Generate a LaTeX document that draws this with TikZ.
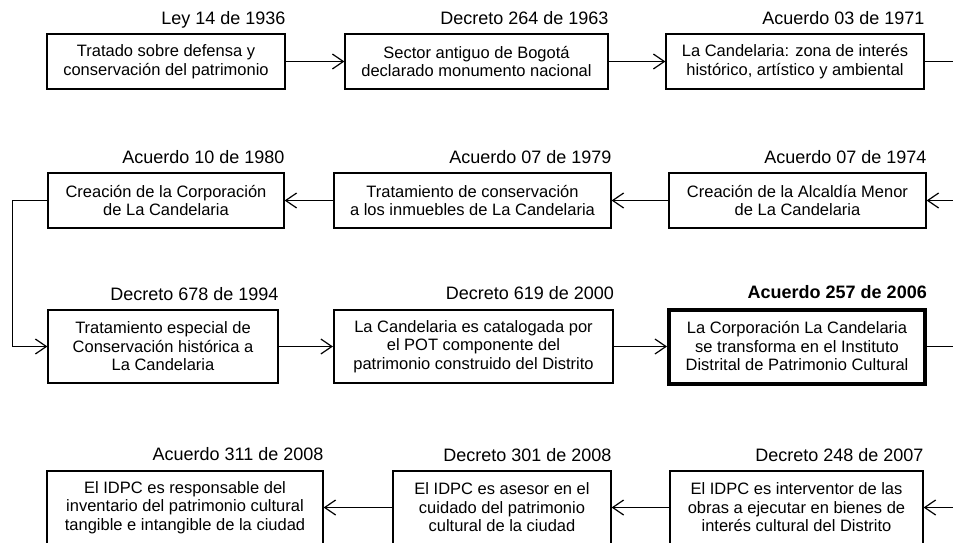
\documentclass[tikz,border=0pt]{standalone}
\usepackage{fontspec}
\setmainfont{Liberation Sans}
\usetikzlibrary{arrows.meta}
\begin{document}
\begin{tikzpicture}[x=1pt,y=-1pt,
  box/.style={draw, line width=1.2pt, inner sep=0pt, align=center,
    font=\fontsize{16.5}{18.5}\selectfont},
  thickbox/.style={box, line width=2.2pt},
  heavybox/.style={box, line width=4pt},
  lab/.style={anchor=base east, inner sep=0pt, font=\fontsize{18}{20}\selectfont},
  conn/.style={line width=1.5pt, -{Straight Barb[length=11pt,width=15pt,line width=1.2pt]}},
  plainline/.style={line width=1.9pt}]
\useasboundingbox (0,0) rectangle (953,543);
% row 1
\node[box, minimum width=238pt, minimum height=55pt] (b1) at (166,61.5) {Tratado sobre defensa y\\conservación del patrimonio};
\node[box, minimum width=263pt, minimum height=55pt] (b2) at (476.5,61.5) {Sector antiguo de Bogotá\\declarado monumento nacional};
\node[box, minimum width=258pt, minimum height=55pt] (b3) at (795,61.5) {La Candelaria: zona de interés\\histórico, artístico y ambiental};
\node[lab] (lb1) at ([yshift=8.5pt]b1.north east) {Ley 14 de 1936};
\node[lab] (lb2) at ([yshift=8.5pt]b2.north east) {Decreto 264 de 1963};
\node[lab] (lb3) at ([yshift=8.5pt]b3.north east) {Acuerdo 03 de 1971};
% row 2
\node[box, minimum width=236pt, minimum height=55pt] (c1) at (166,200.5) {Creación de la Corporación\\de La Candelaria};
\node[box, minimum width=277pt, minimum height=55pt] (c2) at (472.5,200.5) {Tratamiento de conservación\\a los inmuebles de La Candelaria};
\node[box, minimum width=257pt, minimum height=55pt] (c3) at (797.5,200.5) {Creación de la Alcaldía Menor\\de La Candelaria};
\node[lab] (lc1) at ([yshift=9pt]c1.north east) {Acuerdo 10 de 1980};
\node[lab] (lc2) at ([yshift=9pt]c2.north east) {Acuerdo 07 de 1979};
\node[lab] (lc3) at ([yshift=9pt]c3.north east) {Acuerdo 07 de 1974};
% row 3
\node[box, minimum width=230pt, minimum height=73pt] (d1) at (163,346.5) {Tratamiento especial de\\Conservación histórica a\\La Candelaria};
\node[thickbox, minimum width=279pt, minimum height=73pt] (d2) at (473.5,346.5) {La Candelaria es catalogada por\\el POT componente del\\patrimonio construido del Distrito};
\node[heavybox, minimum width=256pt, minimum height=74pt] (d3) at (797,346.5) {La Corporación La Candelaria\\se transforma en el Instituto\\Distrital de Patrimonio Cultural};
\node[lab] (ld1) at ([yshift=9pt]d1.north east) {Decreto 678 de 1994};
\node[lab] (ld2) at ([yshift=9pt]d2.north east) {Decreto 619 de 2000};
\node[lab, font=\fontsize{18}{20}\selectfont\bfseries] (ld3) at ([yshift=9pt]d3.north east) {Acuerdo 257 de 2006};
% row 4
\node[box, minimum width=276pt, minimum height=73pt] (e1) at (185,507.5) {El IDPC es responsable del\\inventario del patrimonio cultural\\tangible e intangible de la ciudad};
\node[box, minimum width=218pt, minimum height=73pt] (e2) at (502,507.5) {El IDPC es asesor en el\\cuidado del patrimonio\\cultural de la ciudad};
\node[box, minimum width=253pt, minimum height=73pt] (e3) at (796.5,507.5) {El IDPC es interventor de las\\obras a ejecutar en bienes de\\interés cultural del Distrito};
\node[lab] (le1) at ([yshift=10pt]e1.north east) {Acuerdo 311 de 2008};
\node[lab] (le2) at ([yshift=9pt]e2.north east) {Decreto 301 de 2008};
\node[lab] (le3) at ([yshift=9pt]e3.north east) {Decreto 248 de 2007};
% free ends at the right edge
\coordinate (r1) at (965,61.5);
\coordinate (r2) at (965,200.5);
\coordinate (r3) at (965,346.5);
\coordinate (r4) at (965,507.5);
\coordinate (k1) at (12,0);
% connectors
\draw[conn] (b1.east) -- (b2.west);
\draw[conn] (b2.east) -- (b3.west);
\draw[plainline] (b3.east) -- (r1);
\draw[conn, line width=1.8pt] (r2) -- (c3.east);
\draw[conn] (c3.west) -- (c2.east);
\draw[conn] (c2.west) -- (c1.east);
\draw[conn, line width=1pt] (c1.west) -- (c1.west -| k1) |- (d1.west);
\draw[conn] (d1.east) -- (d2.west);
\draw[conn] (d2.east) -- (d3.west);
\draw[line width=1.2pt] (d3.east) -- (r3);
\draw[conn, line width=1.1pt] (r4) -- (e3.east);
\draw[conn, line width=1.1pt] (e3.west) -- (e2.east);
\draw[conn, line width=1.1pt] (e2.west) -- (e1.east);
\end{tikzpicture}
\end{document}
